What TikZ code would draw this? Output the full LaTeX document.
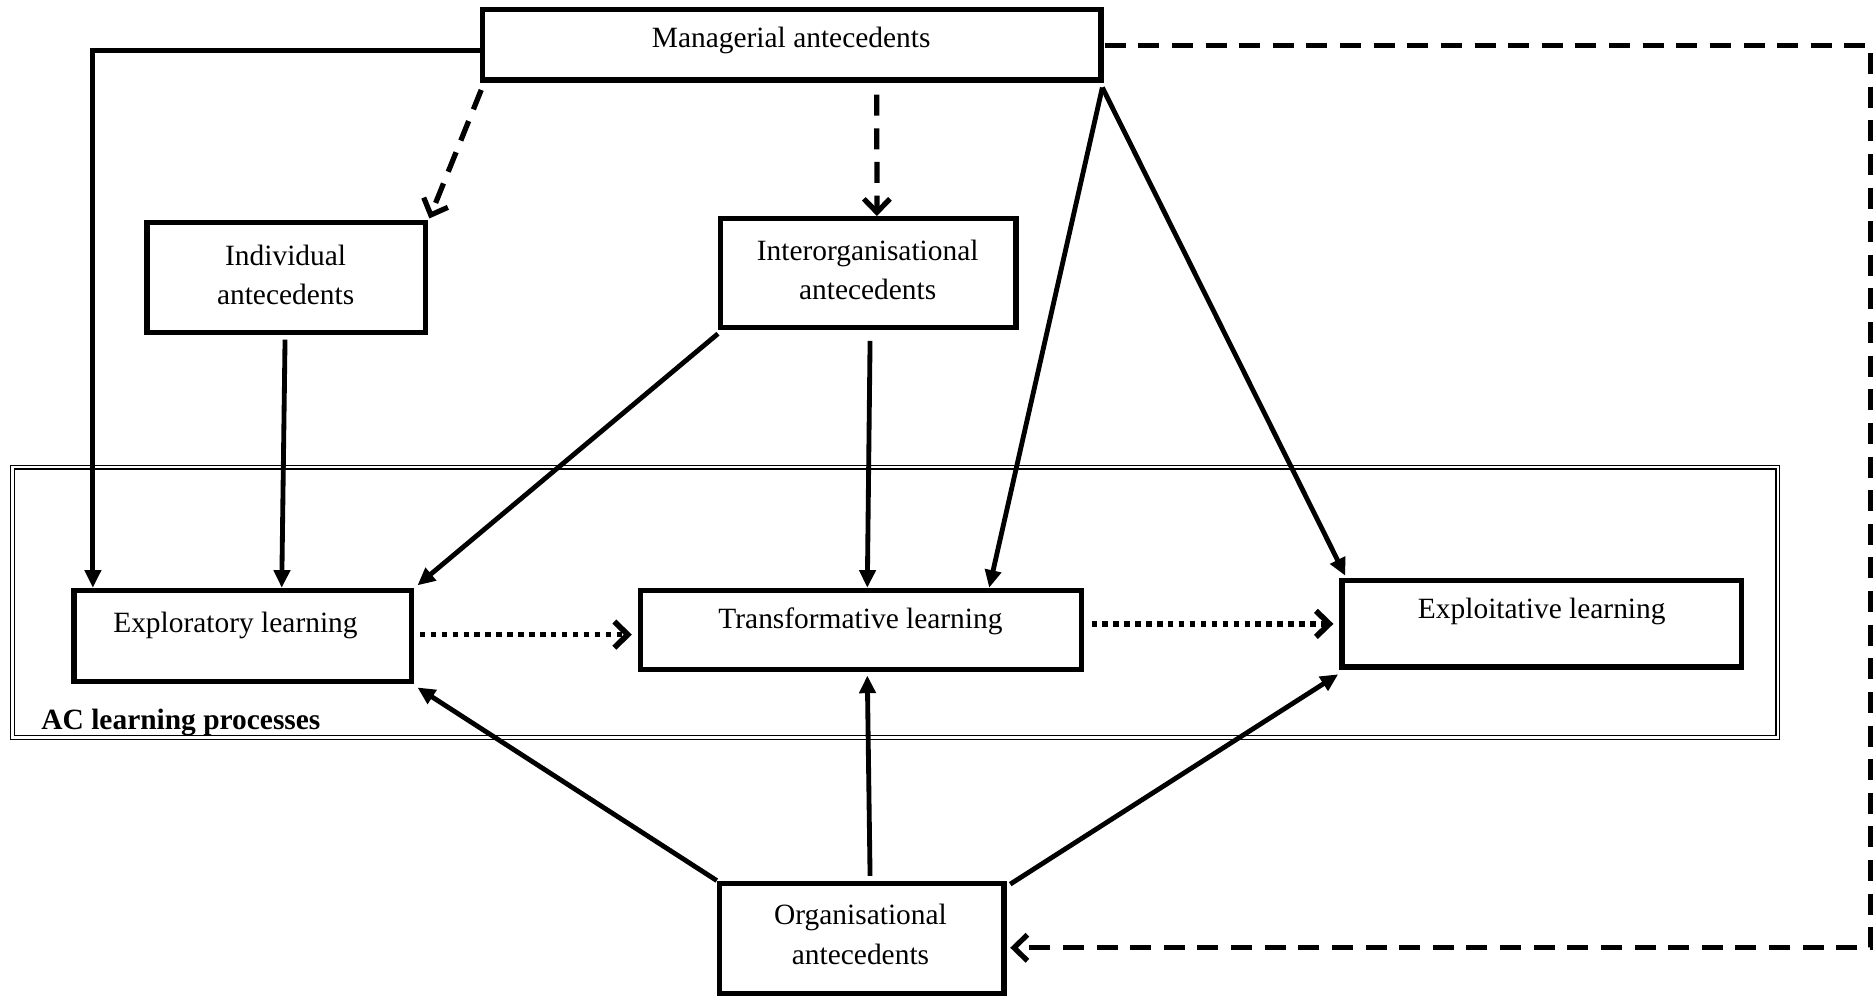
\documentclass[tikz,border=0pt]{standalone}
\usepackage{fontspec}
\setmainfont{Liberation Serif}
\usetikzlibrary{arrows.meta,calc}
\begin{document}
\begin{tikzpicture}[x=0.01cm,y=-0.01cm,
  box/.style={draw, line width=1.25pt, inner sep=0pt},
  frame/.style={draw, line width=0.3pt, double, double distance=0.55pt, inner sep=0pt},
  txt/.style={font=\fontsize{7}{9.4}\selectfont, align=center, inner sep=0pt},
  btxt/.style={font=\fontsize{7}{9.4}\selectfont\bfseries, inner sep=0pt},
  sarrow/.style={line width=1.15pt, -{Triangle[length=4.2pt,width=3.8pt]}},
  darrow/.style={line width=1.25pt, dash pattern=on 5pt off 3pt, -{Straight Barb[length=3.2pt,width=6.2pt]}},
  dotarrow/.style={line width=1.35pt, dash pattern=on 1.3pt off 1.3pt, -{Straight Barb[length=3.2pt,width=6.2pt]}}
]
\useasboundingbox (0,0) rectangle (1568,833);

% AC frame
\node[frame, minimum width=14.76cm, minimum height=2.26cm] (acframe) at (749,504) {};
\node[btxt, anchor=base west] (aclabel) at (34,610) {AC learning processes};

% boxes
\node[box, minimum width=5.17cm, minimum height=0.59cm] (man) at (662.5,37.5) {};
\node[box, minimum width=2.33cm, minimum height=0.92cm] (ind) at (239.5,232) {};
\node[box, minimum width=2.47cm, minimum height=0.91cm] (inter) at (726.5,228.5) {};
\node[box, minimum width=2.82cm, minimum height=0.76cm] (expl) at (203,532) {};
\node[box, minimum width=3.69cm, minimum height=0.66cm] (trans) at (720.5,527) {};
\node[box, minimum width=3.34cm, minimum height=0.72cm] (exploit) at (1290,522) {};
\node[box, minimum width=2.38cm, minimum height=0.92cm] (org) at (721,785) {};

% texts
\node[txt] (mant) at (662,34) {Managerial antecedents};
\node[txt] (indt) at (239,230) {Individual\\antecedents};
\node[txt] (intert) at (726,226) {Interorganisational\\antecedents};
\node[txt] (explt) at (197,523) {Exploratory learning};
\node[txt] (transt) at (720,520) {Transformative learning};
\node[txt] (exploitt) at (1290,512) {Exploitative learning};
\node[txt] (orgt) at (720,782) {Organisational\\antecedents};

% connectors
\draw[sarrow] ($(man.west)+(0,4.5)$) -| ($(expl.north west)+(18,0)$);
\draw[darrow] ($(man.south west)+(1,6)$) -- ($(ind.north east)+(1,-1)$);
\draw[darrow] ($(man.south west)+(332,10)$) -- ($(inter.north west)+(133,0)$);
\draw[sarrow] ($(ind.south)+(-1,4)$) -- ($(expl.north west)+(176,0)$);
\draw[sarrow] ($(inter.south west)+(0,3)$) -- ($(expl.north east)+(3,-2)$);
\draw[sarrow] ($(inter.south)+(1.5,9)$) -- ($(trans.north west)+(192,0)$);
\draw[sarrow] ($(man.south east)+(-1,4)$) -- ($(trans.north west)+(294,0)$);
\draw[sarrow] ($(man.south east)+(-1,4)$) -- ($(exploit.north west)+(5,-2)$);
\draw[dotarrow] ($(expl.east)+(5,-1)$) -- ($(trans.west)+(-5,4)$);
\draw[dotarrow] ($(trans.east)+(6,-5)$) -- ($(exploit.west)+(-5,0)$);
\draw[sarrow] (org.north west) -- ($(expl.south east)+(3,3)$);
\draw[sarrow] ($(org.north)+(7,-4)$) -- ($(trans.south west)+(192,3)$);
\draw[sarrow] ($(org.north east)+(3,3)$) -- ($(exploit.south west)+(-1,4)$);
\coordinate (loopTR) at (1565,38);
\coordinate (loopBR) at (1565,793);
\draw[darrow] ($(man.east)+(1,0.5)$) -- (loopTR) -- (loopBR) -- ($(org.east)+(3,8)$);
\end{tikzpicture}
\end{document}
